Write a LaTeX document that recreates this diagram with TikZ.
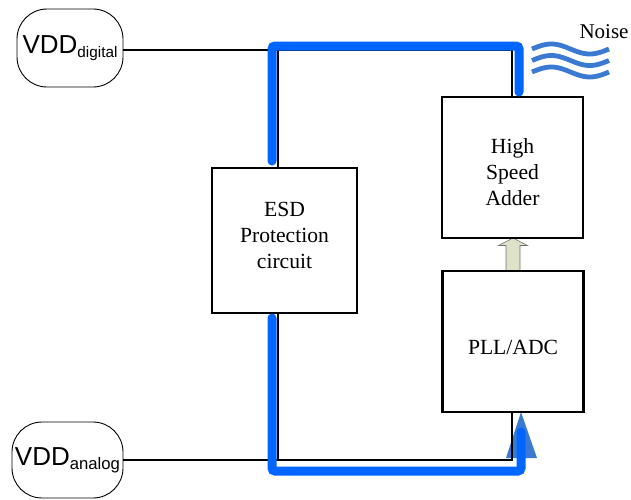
\documentclass[tikz,border=0pt]{standalone}
\usepackage{fontspec}
\setmainfont{Liberation Serif}
\newfontfamily\arialf{Liberation Sans}
\usetikzlibrary{calc}
\definecolor{busblue}{RGB}{0,102,255}
\definecolor{noiseblue}{RGB}{58,122,210}
\definecolor{arrowfill}{RGB}{221,226,200}
\begin{document}
\begin{tikzpicture}[x=1pt,y=-1pt,
  blockbox/.style={draw, line width=2.8pt, fill=white, inner sep=0pt,
    minimum width=141pt, minimum height=141pt},
  blocktext/.style={align=center, inner sep=0pt, font=\fontsize{21.6}{26}\selectfont},
  supply/.style={draw, line width=0.9pt, rounded corners=30pt, inner sep=0pt,
    font=\arialf\fontsize{26}{28}\selectfont},
  wire/.style={line width=2.2pt},
  bus/.style={draw=busblue, line width=9pt, line cap=round, rounded corners=3pt},
  wave/.style={draw=noiseblue, line width=4.8pt},
  hollowarrow/.style={draw=black!55, line width=0.6pt, fill=arrowfill}]
\useasboundingbox (0,0) rectangle (631,499);

% supplies
\node[supply, minimum width=106pt, minimum height=78pt] (vddd) at (70,48)
  {VDD{\fontsize{15.3}{16}\selectfont\raisebox{-4pt}{digital}}};
\node[supply, minimum width=111pt, minimum height=76pt] (vdda) at (67.5,460)
  {\raisebox{-2.5pt}{VDD{\fontsize{16.7}{17}\selectfont\raisebox{-4pt}{analog}}}};

% junction coordinates
\coordinate (tj) at (278,50);
\coordinate (tr) at (512,50);
\coordinate (bj) at (278,460);
\coordinate (br) at (512,460);

% noise triangle
\fill[noiseblue] (521,412) -- (537,458) -- (506,458) -- cycle;

% hollow arrow between blocks
\draw[hollowarrow] (513,238) -- (527.5,245.5) -- (520,245.5) -- (520,272) -- (506,272)
  -- (506,245.5) -- (498.5,245.5) -- cycle;

% blocks
\node[blockbox, minimum width=145pt, minimum height=145pt] (esd) at (284.5,240.5) {};
\node[blocktext] (esdtext) at ($(esd.center)+(0,-5)$) {ESD\\Protection\\circuit};
\node[blockbox] (hsa) at (512.5,167.5) {};
\node[blocktext] (hsatext) at ($(hsa.center)+(0,5)$) {High\\Speed\\Adder};
\node[blockbox] (pll) at (513,341.5) {};
\node[blocktext] (plltext) at ($(pll.center)+(0,6)$) {PLL/ADC};

% wires
\draw[wire] (vddd.east |- tj) -- (tr) -- (tr |- hsa.north);
\draw[wire] (tj) -- (tj |- esd.north);
\draw[wire] (vdda.east |- bj) -- (br) -- (br |- pll.south);
\draw[wire] (bj) -- (bj |- esd.south);

% thick blue current paths
\coordinate (b1) at (272,161);
\coordinate (b2) at (272,46);
\coordinate (b3) at (519,46);
\coordinate (b4) at (519,92);
\draw[bus] (b1) -- (b2) -- (b3) -- (b4);
\coordinate (c1) at (272,318);
\coordinate (c2) at (272,471);
\coordinate (c3) at (521,471);
\coordinate (c4) at (521,432);
\draw[bus] (c1) -- (c2) -- (c3) -- (c4);

% noise
\foreach \c in {49,60.5,72}
  \draw[wave, shift={(532,\c)}] plot[domain=0:77, samples=40, smooth] (\x, {-5*sin(4.675*\x)});
\node[anchor=base, inner sep=0pt, font=\fontsize{21}{24}\selectfont] (noise) at (604,38) {Noise};
\end{tikzpicture}
\end{document}
